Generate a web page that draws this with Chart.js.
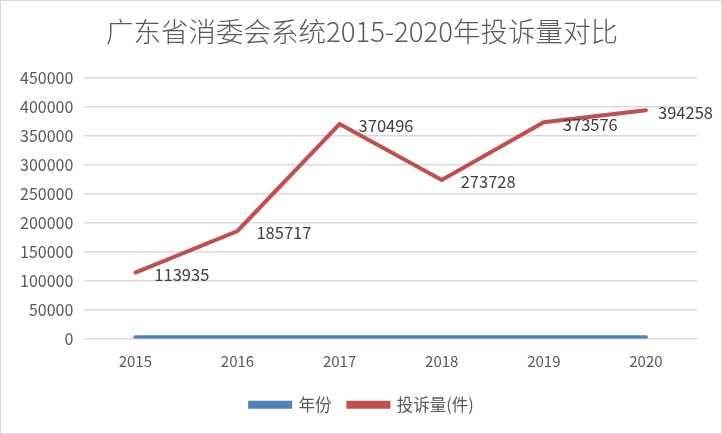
<!DOCTYPE html>
<html>
<head>
<meta charset="utf-8">
<script src="https://cdn.jsdelivr.net/npm/chart.js@4"></script>
<style>
  body { margin: 0; background: #fff; }
  #box { width: 722px; height: 434px; box-sizing: border-box; border: 1px solid #d9d9d9; position: relative; }
</style>
</head>
<body>
<div id="box"><canvas id="grafico"></canvas></div>
<script>
// dados
const anos = ["2015", "2016", "2017", "2018", "2019", "2020"];
const anoValores = [2015, 2016, 2017, 2018, 2019, 2020];
const queixas = [113935, 185717, 370496, 273728, 373576, 394258];
const titulo = "广东省消委会系统2015-2020年投诉量对比";

const fonte = "'Noto Sans CJK SC', 'Liberation Sans', sans-serif";

// rótulos à direita dos pontos da série vermelha
const rotulos = {
  id: "rotulos",
  afterLayout(chart) {
    // centrar título e legenda na largura total
    const d = 9;
    [chart.titleBlock, chart.legend].forEach((b) => {
      if (b) { b.left += d; b.right += d; }
    });
  },
  afterDatasetsDraw(chart) {
    const ctx = chart.ctx;
    const meta = chart.getDatasetMeta(1);
    ctx.save();
    ctx.font = "16.5px " + fonte;
    ctx.fillStyle = "#404040";
    ctx.textAlign = "left";
    ctx.textBaseline = "middle";
    meta.data.forEach((p, i) => {
      const txt = String(queixas[i]);
      let x = p.x + 19;
      const w = ctx.measureText(txt).width;
      if (x + w > chart.width - 8) x = chart.width - 8 - w;
      ctx.fillText(txt, x, p.y + 2);
    });
    ctx.restore();
  },
};

new Chart(document.getElementById("grafico"), {
  type: "line",
  data: {
    labels: anos,
    datasets: [
      {
        label: "年份",
        data: anoValores,
        borderColor: "#4F81BD",
        backgroundColor: "#4F81BD",
        borderWidth: 4,
        pointRadius: 0,
        borderCapStyle: "round",
      },
      {
        label: "投诉量(件)",
        data: queixas,
        borderColor: "#C0504D",
        backgroundColor: "#C0504D",
        borderWidth: 4,
        pointRadius: 0,
        borderCapStyle: "round",
      },
    ],
  },
  options: {
    responsive: true,
    maintainAspectRatio: false,
    animation: false,
    layout: { padding: { left: 8, right: 24, top: 8, bottom: 10 } },
    plugins: {
      title: {
        display: true,
        text: titulo,
        color: "#595959",
        font: { family: fonte, size: 27.5, weight: "300" },
        padding: { top: 6, bottom: 30 },
      },
      legend: {
        position: "bottom",
        labels: {
          boxWidth: 40,
          boxHeight: 4,
          color: "#595959",
          font: { family: fonte, size: 16.5 },
          padding: 17,
        },
      },
      tooltip: { enabled: false },
    },
    scales: {
      x: {
        offset: true,
        grid: { display: false },
        border: { display: false },
        ticks: { color: "#595959", font: { family: fonte, size: 15 }, padding: 6 },
        afterFit: (s) => { s.height += 3; },
      },
      y: {
        min: 0,
        max: 450000,
        ticks: {
          stepSize: 50000,
          color: "#595959",
          font: { family: fonte, size: 16 },
          padding: 11,
          callback: (v) => String(v),
        },
        grid: { color: "#d9d9d9", lineWidth: 1.5, drawTicks: false },
        border: { display: false },
      },
    },
  },
  plugins: [rotulos],
});
</script>
</body>
</html>
